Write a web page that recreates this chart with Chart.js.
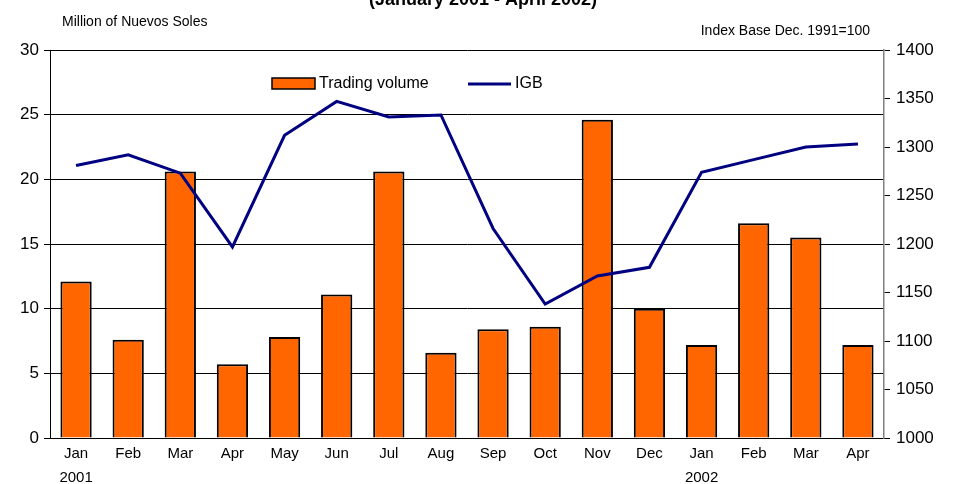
<!DOCTYPE html>
<html>
<head>
<meta charset="utf-8">
<script src="https://cdn.jsdelivr.net/npm/chart.js@4.4.1/dist/chart.umd.min.js"></script>
<style>
  html, body { margin: 0; padding: 0; background: #fff; }
  #wrap { width: 953px; height: 484px; }
</style>
</head>
<body>
<div id="wrap"><canvas id="salesChart" width="953" height="484"></canvas></div>
<script>
// months and years
const months = ["Jan", "Feb", "Mar", "Apr", "May", "Jun", "Jul", "Aug", "Sep", "Oct", "Nov", "Dec", "Jan", "Feb", "Mar", "Apr"];
const years = ["2001", "", "", "", "", "", "", "", "", "", "", "", "2002", "", "", ""];

// trading volume (million of nuevos soles)
const tradingVolume = [12.1, 7.6, 20.6, 5.7, 7.8, 11.1, 20.6, 6.6, 8.4, 8.6, 24.6, 10.0, 7.2, 16.6, 15.5, 7.2];

// IGB index (base Dec. 1991 = 100)
const igb = [1281, 1292, 1273, 1197, 1312, 1347, 1331, 1333, 1216, 1138, 1167, 1176, 1274, 1287, 1300, 1303];

const labels = months.map((m, i) => years[i] ? [m, years[i]] : m);

// draws the cut-off title, axis captions and the legend inside the plot
const extras = {
  id: "extras",
  afterDraw(chart) {
    const ctx = chart.ctx;
    ctx.save();
    ctx.fillStyle = "#000";
    ctx.font = "bold 18px 'Liberation Sans', Arial, sans-serif";
    ctx.textAlign = "center";
    ctx.textBaseline = "alphabetic";
    ctx.fillText("(January 2001 - April 2002)", 483, 5);

    ctx.font = "14px 'Liberation Sans', Arial, sans-serif";
    ctx.textAlign = "left";
    ctx.fillText("Million of Nuevos Soles", 62, 26);
    ctx.textAlign = "right";
    ctx.fillText("Index Base Dec. 1991=100", 870, 35);

    // legend
    ctx.font = "16px 'Liberation Sans', Arial, sans-serif";
    ctx.textAlign = "left";
    ctx.textBaseline = "middle";
    ctx.fillStyle = "#FF6600";
    ctx.fillRect(272, 78, 43, 11);
    ctx.strokeStyle = "#000";
    ctx.lineWidth = 1.5;
    ctx.strokeRect(272, 78, 43, 11);
    ctx.fillStyle = "#000";
    ctx.fillText("Trading volume", 319, 84);
    ctx.strokeStyle = "#000080";
    ctx.lineWidth = 3;
    ctx.beginPath();
    ctx.moveTo(468, 84);
    ctx.lineTo(511, 84);
    ctx.stroke();
    ctx.fillText("IGB", 515, 84);
    ctx.restore();
  }
};

const ctx = document.getElementById("salesChart").getContext("2d");
const chart = new Chart(ctx, {
  type: "bar",
  data: {
    labels: labels,
    datasets: [
      {
        type: "line",
        label: "IGB",
        data: igb,
        yAxisID: "y1",
        borderColor: "#000080",
        backgroundColor: "#000080",
        borderWidth: 3,
        pointRadius: 0,
        tension: 0,
        order: 0,
      },
      {
        label: "Trading volume",
        data: tradingVolume,
        yAxisID: "y",
        backgroundColor: "#FF6600",
        borderColor: "#000",
        borderWidth: 2,
        barPercentage: 0.6,
        categoryPercentage: 1,
        order: 1,
      },
    ],
  },
  options: {
    responsive: false,
    animation: false,
    layout: { padding: { top: 50, left: 0, right: 0, bottom: 0 } },
    plugins: { legend: { display: false }, tooltip: { enabled: false } },
    scales: {
      x: {
        offset: true,
        grid: { display: false, drawTicks: false },
        border: { color: "#000", width: 1 },
        ticks: {
          color: "#000",
          font: { family: "'Liberation Sans', Arial, sans-serif", size: 15, lineHeight: 1.65 },
          maxRotation: 0,
          autoSkip: false,
          padding: 3,
        },
        afterFit(scale) { scale.height = 46; },
      },
      y: {
        position: "left",
        min: 0,
        max: 30,
        ticks: {
          stepSize: 5,
          color: "#000",
          font: { family: "'Liberation Sans', Arial, sans-serif", size: 17 },
          padding: 5,
        },
        grid: { color: "#000", lineWidth: 1, tickLength: 6 },
        border: { color: "#000", width: 1 },
        afterFit(scale) { scale.width = 50; },
      },
      y1: {
        position: "right",
        min: 1000,
        max: 1400,
        ticks: {
          stepSize: 50,
          color: "#000",
          font: { family: "'Liberation Sans', Arial, sans-serif", size: 17 },
          padding: 6,
          callback: (v) => String(v),
        },
        grid: { drawOnChartArea: false, color: "#000", tickLength: 6 },
        border: { color: "#808080", width: 1.5 },
        afterFit(scale) { scale.width = 69; },
      },
    },
  },
  plugins: [extras],
});
</script>
</body>
</html>
